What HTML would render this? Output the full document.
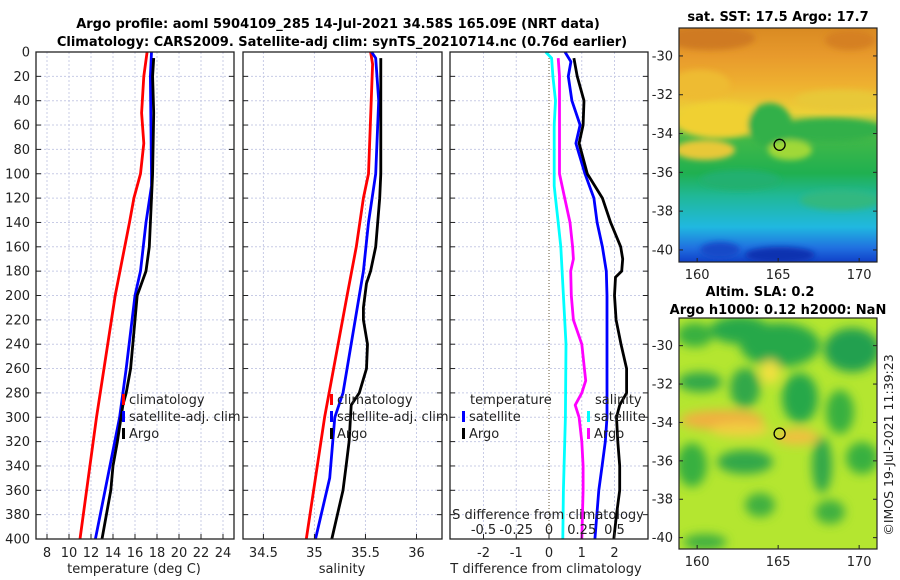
<!DOCTYPE html>
<html><head><meta charset="utf-8"><style>
html,body{margin:0;padding:0;background:#fff;}
svg{display:block;font-family:"DejaVu Sans","Liberation Sans",sans-serif;}
</style></head><body>
<svg id="chart" width="900" height="580" viewBox="0 0 900 580">
<defs>
<filter id="blur6" x="-50%" y="-50%" width="200%" height="200%"><feGaussianBlur stdDeviation="5"/></filter>
<filter id="blur3" x="-50%" y="-50%" width="200%" height="200%"><feGaussianBlur stdDeviation="3"/></filter>
<clipPath id="m1clip"><rect x="679" y="28" width="198" height="234"/></clipPath>
<clipPath id="m2clip"><rect x="679" y="318" width="198" height="231"/></clipPath>
<linearGradient id="sstg" x1="0" y1="0" x2="0" y2="1">
<stop offset="0" stop-color="#d98a22"/><stop offset="0.12" stop-color="#e89a2c"/><stop offset="0.24" stop-color="#eeb030"/>
<stop offset="0.36" stop-color="#ecd038"/><stop offset="0.48" stop-color="#40b848"/><stop offset="0.62" stop-color="#20b050"/>
<stop offset="0.72" stop-color="#20b898"/><stop offset="0.85" stop-color="#20b8e0"/><stop offset="0.94" stop-color="#2070e0"/><stop offset="1" stop-color="#1040c8"/>
</linearGradient>
</defs>
<g id="titles" font-weight="bold" font-size="13" text-anchor="middle" fill="#000">
<text x="338" y="28">Argo profile: aoml 5904109_285 14-Jul-2021 34.58S 165.09E (NRT data)</text>
<text x="342" y="46">Climatology: CARS2009. Satellite-adj clim: synTS_20210714.nc (0.76d earlier)</text>
<text x="778" y="21">sat. SST: 17.5 Argo: 17.7</text>
<text x="760" y="296">Altim. SLA: 0.2</text>
<text x="778" y="314">Argo h1000: 0.12 h2000: NaN</text>
</g>
<g id="grids"></g>
<g id="maps"></g>
<g id="series"></g>
<g id="frames"></g>
<g id="labels" font-size="13" fill="#222"></g>
<text transform="translate(893,445) rotate(-90)" font-size="12.5" text-anchor="middle" fill="#222">©IMOS 19-Jul-2021 11:39:23</text>
</svg>
<script>
// ---- data ----
const tClimD=[0,20,50,75,100,120,140,200,300,400];
const tClim=[17.1,16.8,16.6,16.8,16.5,15.9,15.5,14.2,12.5,11.0];
const tSatD=[0,20,100,110,140,180,200,260,300,400];
const tSat=[17.5,17.4,17.5,17.5,17.0,16.5,16.0,15.2,14.6,12.4];
const tArgoD=[5,20,50,100,120,160,180,190,200,220,260,280,290,320,340,360,400];
const tArgo=[17.7,17.6,17.7,17.6,17.5,17.3,17.0,16.6,16.2,16.0,15.6,15.2,14.9,14.4,14.0,13.8,13.0];
const sClimD=[0,10,100,120,160,200,300,400];
const sClim=[35.55,35.57,35.53,35.48,35.41,35.32,35.10,34.92];
const sSatD=[0,5,40,100,140,180,200,280,300,350,400];
const sSat=[35.56,35.60,35.63,35.60,35.53,35.48,35.44,35.28,35.20,35.15,35.01];
const sArgoD=[5,40,100,120,160,180,190,210,220,240,260,280,290,320,340,360,400];
const sArgo=[35.65,35.65,35.65,35.64,35.60,35.55,35.51,35.48,35.48,35.52,35.51,35.44,35.36,35.34,35.31,35.28,35.17];
const dTSatD=[0,8,20,40,60,75,100,120,140,160,180,200,240,300,320,340,360,400];
const dTSat=[0.49,0.67,0.59,0.70,0.95,0.82,1.1,1.37,1.47,1.63,1.75,1.77,1.77,1.77,1.72,1.62,1.52,1.4];
const dTArgoD=[5,20,40,60,75,100,120,140,160,170,180,185,200,220,240,260,280,290,300,320,340,360,380,400];
const dTArgo=[0.76,0.86,1.07,1.04,0.92,1.17,1.63,1.88,2.19,2.25,2.22,2.03,2.0,2.05,2.2,2.37,2.37,2.16,2.06,2.1,2.16,2.16,2.06,1.98];
const dSSatD=[0,5,20,40,60,110,120,140,160,180,240,300,360,400];
const dSSat=[-0.025,0.02,0.03,0.05,0.04,0.04,0.05,0.07,0.09,0.10,0.13,0.125,0.11,0.105];
const dSArgoD=[5,20,100,120,140,160,170,180,200,220,240,260,270,280,290,300,320,340,360,400];
const dSArgo=[0.07,0.08,0.08,0.12,0.16,0.18,0.186,0.166,0.17,0.186,0.25,0.27,0.28,0.25,0.2,0.23,0.25,0.26,0.26,0.25];
const depthTicks=[0,20,40,60,80,100,120,140,160,180,200,220,240,260,280,300,320,340,360,380,400];
const tTicks=[8,10,12,14,16,18,20,22,24];
const sTicks=[34.5,35,35.5,36];
const sTickLabels=["34.5","35","35.5","36"];
const dTTicks=[-2,-1,0,1,2];
const dSTicks=[-0.5,-0.25,0,0.25,0.5];
const dSTickLabels=["-0.5","-0.25","0","0.25","0.5"];
const mapLonTicks=[160,165,170];
const mapLatTicks=[-30,-32,-34,-36,-38,-40];

// ---- axes ----
const Y0=52,Y1=539;
const yD=d=>Y0+d*(Y1-Y0)/400;
const P1={l:36,r:234}, P2={l:243,r:442}, P3={l:450,r:648};
const x1=t=>P1.l+(t-7)*(P1.r-P1.l)/18;
const x2=s=>P2.l+(s-34.3)*(P2.r-P2.l)/1.95;
const x3T=t=>549+t*32.75;
const x3S=s=>549+s*131;
const mX=lon=>679+(lon-158.88)*16.2;
const m1Y=lat=>28+(-28.56-lat)*19.4;
const m2Y=lat=>318+(-28.56-lat)*19.2;

const NS='http://www.w3.org/2000/svg';
function mk(tag,attrs,parent){const e=document.createElementNS(NS,tag);for(const k in attrs)e.setAttribute(k,attrs[k]);parent.appendChild(e);return e;}
const G=document.getElementById('grids'),S=document.getElementById('series'),F=document.getElementById('frames'),L=document.getElementById('labels'),M=document.getElementById('maps');

// grids
[P1,P2,P3].forEach((p,pi)=>{
  depthTicks.forEach(d=>{
    if(d===0||d===400)return;
    const g=mk('line',{x1:p.l,x2:p.r,y1:yD(d),y2:yD(d),stroke:'#c8cce6','stroke-width':1,'stroke-dasharray':'2,2'},G);
    
    
  });
});
tTicks.forEach(t=>{const g=mk('line',{x1:x1(t),x2:x1(t),y1:Y0,y2:Y1,stroke:'#c8cce6','stroke-dasharray':'2,2'},G);
  });
sTicks.forEach(t=>{const g=mk('line',{x1:x2(t),x2:x2(t),y1:Y0,y2:Y1,stroke:'#c8cce6','stroke-dasharray':'2,2'},G);
  });
dTTicks.forEach(t=>{const g=mk('line',{x1:x3T(t),x2:x3T(t),y1:Y0,y2:Y1,stroke:t===0?'#665533':'#c8cce6','stroke-dasharray':t===0?'1,2':'2,2'},G);
  });

// series
function line(xs,ds,fx,color,name){
  const pts=xs.map((v,i)=>fx(v).toFixed(1)+','+yD(ds[i]).toFixed(1)).join(' ');
  const e=mk('polyline',{points:pts,fill:'none',stroke:color,'stroke-width':2.8,'stroke-linejoin':'round'},S);
  
  
}
line(tClim,tClimD,x1,'#ff0000','temp-climatology-line');
line(tSat,tSatD,x1,'#0000ff','temp-satellite-line');
line(tArgo,tArgoD,x1,'#000000','temp-argo-line');
line(sClim,sClimD,x2,'#ff0000','sal-climatology-line');
line(sSat,sSatD,x2,'#0000ff','sal-satellite-line');
line(sArgo,sArgoD,x2,'#000000','sal-argo-line');
line(dSSat,dSSatD,x3S,'#00ffff','sdiff-satellite-line');
line(dSArgo,dSArgoD,x3S,'#ff00ff','sdiff-argo-line');
line(dTSat,dTSatD,x3T,'#0000ff','tdiff-satellite-line');
line(dTArgo,dTArgoD,x3T,'#000000','tdiff-argo-line');

// frames and ticks
[P1,P2,P3].forEach((p,pi)=>{
  const r=mk('rect',{x:p.l,y:Y0,width:p.r-p.l,height:Y1-Y0,fill:'none',stroke:'#222','stroke-width':1.3},F);
  
  
  depthTicks.forEach(d=>{
    mk('line',{x1:p.l,x2:p.l+5,y1:yD(d),y2:yD(d),stroke:'#222'},F);
    mk('line',{x1:p.r-5,x2:p.r,y1:yD(d),y2:yD(d),stroke:'#222'},F);
  });
});
depthTicks.forEach(d=>{
  const t=mk('text',{x:30,y:yD(d)+4.5,'text-anchor':'end'},L);t.textContent=d;
  
});
function xtick(x,lab,y,name){
  mk('line',{x1:x,x2:x,y1:Y1,y2:Y1-5,stroke:'#222'},F);
  const t=mk('text',{x:x,y:y,'text-anchor':'middle'},L);t.textContent=lab;
  
}
tTicks.forEach(v=>xtick(x1(v),v,557,'temp-tick-label'));
sTicks.forEach((v,i)=>xtick(x2(v),sTickLabels[i],557,'sal-tick-label'));
dTTicks.forEach(v=>xtick(x3T(v),v,557,'tdiff-tick-label'));
dSTicks.forEach((v,i)=>{const t=mk('text',{x:x3S(v),y:534,'text-anchor':'middle'},L);t.textContent=dSTickLabels[i];
  });
function txt(x,y,s,name,anchor){const t=mk('text',{x:x,y:y,'text-anchor':anchor||'start'},L);t.textContent=s;
  return t;}
txt(134,573,'temperature (deg C)','temp-axis-title','middle');
txt(342,573,'salinity','sal-axis-title','middle');
txt(546,573,'T difference from climatology','tdiff-axis-title','middle');
txt(548,519,'S difference from climatology','sdiff-axis-title','middle');

// legends
function leg(x,y,color,label,name){
  const b=mk('rect',{x:x,y:y-10,width:3,height:11,fill:color},L);
  
  txt(x+7,y,label,name,'start');
}
leg(122,404,'#ff0000','climatology','temp-legend-climatology');
leg(122,421,'#0000ff','satellite-adj. clim','temp-legend-satellite');
leg(122,438,'#000000','Argo','temp-legend-argo');
leg(330,404,'#ff0000','climatology','sal-legend-climatology');
leg(330,421,'#0000ff','satellite-adj. clim','sal-legend-satellite');
leg(330,438,'#000000','Argo','sal-legend-argo');
txt(470,404,'temperature','diff-legend-temp-heading');
leg(462,421,'#0000ff','satellite','diff-legend-tsat');
leg(462,438,'#000000','Argo','diff-legend-targo');
txt(595,404,'salinity','diff-legend-sal-heading');
leg(587,421,'#00ffff','satellite','diff-legend-ssat');
leg(587,438,'#ff00ff','Argo','diff-legend-sargo');

// maps
const g1=mk('g',{'clip-path':'url(#m1clip)'},M);

mk('rect',{x:679,y:28,width:198,height:234,fill:'url(#sstg)'},g1);
const gb1=mk('g',{filter:'url(#blur3)'},g1);
[[720,120,45,18,'#f0d030'],[700,85,30,15,'#eebb30'],[840,100,45,10,'#e8c838'],[830,130,55,12,'#30b048'],[770,125,22,22,'#30b048'],[705,150,30,10,'#e8c838'],[790,150,22,10,'#a0d838'],[740,180,40,10,'#20b070'],[840,200,40,10,'#30b880'],[780,255,35,8,'#1030b0'],[720,250,20,8,'#1848c8'],[710,38,45,12,'#cf7a20'],[850,40,25,10,'#d58020']].forEach(a=>mk('ellipse',{cx:a[0],cy:a[1],rx:a[2],ry:a[3],fill:a[4]},gb1));
const g2=mk('g',{'clip-path':'url(#m2clip)'},M);

mk('rect',{x:679,y:318,width:198,height:231,fill:'#b4e630'},g2);
const gb2=mk('g',{filter:'url(#blur6)'},g2);
[[780,345,40,22,'#28a848'],[740,330,30,14,'#28a848'],[852,350,28,22,'#20a050'],[745,388,15,20,'#30a848'],[800,398,18,25,'#28a848'],[700,382,22,10,'#30a848'],[840,412,14,22,'#38b040'],[692,465,15,22,'#38b040'],[745,462,28,12,'#30a848'],[822,465,10,28,'#30a848'],[862,458,16,16,'#38b040'],[760,505,15,12,'#40b040'],[830,512,15,12,'#40b040'],[705,542,22,8,'#40b040'],[695,335,18,12,'#38b040'],
 [770,372,10,12,'#f0e040'],[722,420,42,10,'#f0b040'],[797,437,22,8,'#f0c040'],[740,430,30,7,'#f0d040']].forEach(a=>mk('ellipse',{cx:a[0],cy:a[1],rx:a[2],ry:a[3],fill:a[4]},gb2));
[[28,262,m1Y,'sst'],[318,549,m2Y,'sla']].forEach(([t,b,fy,nm])=>{
  const r=mk('rect',{x:679,y:t,width:198,height:b-t,fill:'none',stroke:'#222','stroke-width':1.2},M);
  
  mapLatTicks.forEach(lat=>{const y=fy(lat);
    mk('line',{x1:679,x2:683,y1:y,y2:y,stroke:'#222'},M);mk('line',{x1:873,x2:877,y1:y,y2:y,stroke:'#222'},M);
    txt(673,y+4.5,String(lat),nm+'-lat-tick-label','end');});
  mapLonTicks.forEach(lon=>{const x=mX(lon);
    mk('line',{x1:x,x2:x,y1:b,y2:b-4,stroke:'#222'},M);
    txt(x,b+17,String(lon),nm+'-lon-tick-label','middle');});
  const c=mk('circle',{cx:mX(165.09),cy:fy(-34.58),r:5.5,fill:'none',stroke:'#000','stroke-width':1.3},M);
  
});
</script>
</body></html>
